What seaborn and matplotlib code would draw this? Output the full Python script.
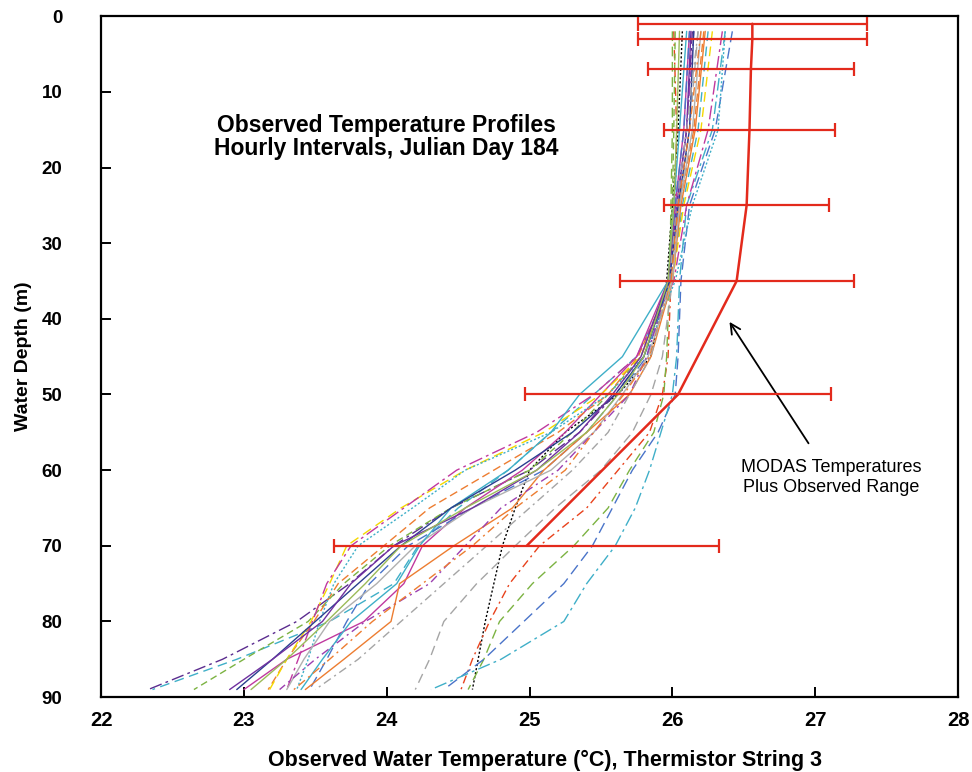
import matplotlib
matplotlib.use("Agg")
import matplotlib.pyplot as plt
import seaborn as sns
import pandas as pd

# Thermistor depths (m) for the hourly observed profiles
depths = [2, 15, 25, 35, 45, 50, 55, 60, 65, 70, 75, 80, 85, 89]

# Observed temperatures (deg C), one list per hourly profile
hr01 = [26.07, 26.04, 26.00, 25.96, 25.85, 25.62, 25.25, 25.00, 24.90, 24.81, 24.75, 24.69, 24.64, 24.60]
hr02 = [26.01, 26.03, 26.02, 25.99, 25.97, 25.93, 25.84, 25.62, 25.40, 25.07, 24.86, 24.72, 24.60, 24.52]
hr03 = [26.00, 26.00, 25.99, 25.98, 25.96, 25.94, 25.87, 25.70, 25.55, 25.31, 25.02, 24.79, 24.68, 24.57]
hr04 = [26.42, 26.30, 26.12, 26.06, 26.04, 26.02, 25.90, 25.72, 25.58, 25.44, 25.24, 24.96, 24.68, 24.40]
hr05 = [26.37, 26.28, 26.10, 26.05, 26.03, 26.00, 25.92, 25.84, 25.74, 25.60, 25.40, 25.24, 24.80, 24.31]
hr06 = [26.18, 26.12, 26.05, 26.00, 25.93, 25.85, 25.72, 25.50, 25.18, 24.90, 24.63, 24.40, 24.30, 24.20]
hr07 = [26.14, 26.10, 26.03, 25.98, 25.80, 25.60, 25.35, 25.00, 24.45, 24.05, 23.74, 23.37, 22.85, 22.33]
hr08 = [26.25, 26.18, 26.07, 26.00, 25.75, 25.45, 25.15, 24.85, 24.50, 24.22, 24.05, 23.60, 22.95, 22.36]
hr09 = [26.02, 26.01, 26.00, 25.97, 25.78, 25.55, 25.30, 25.00, 24.45, 24.02, 23.70, 23.45, 23.00, 22.65]
hr10 = [26.12, 26.08, 26.02, 25.97, 25.75, 25.50, 25.25, 24.95, 24.55, 24.25, 24.12, 23.84, 23.30, 23.00]
hr11 = [26.22, 26.15, 26.05, 25.99, 25.76, 25.55, 25.20, 24.75, 24.30, 23.98, 23.66, 23.49, 23.30, 23.17]
hr12 = [26.28, 26.20, 26.08, 26.00, 25.78, 25.50, 25.10, 24.55, 24.10, 23.72, 23.60, 23.47, 23.30, 23.18]
hr13 = [26.35, 26.25, 26.10, 26.01, 25.75, 25.45, 25.05, 24.49, 24.12, 23.75, 23.58, 23.48, 23.38, 23.30]
hr14 = [26.37, 26.32, 26.14, 26.02, 25.80, 25.55, 25.15, 24.55, 24.18, 23.80, 23.63, 23.53, 23.45, 23.37]
hr15 = [26.12, 26.08, 26.02, 25.98, 25.82, 25.62, 25.40, 25.10, 24.60, 24.15, 23.88, 23.72, 23.58, 23.46]
hr16 = [26.23, 26.16, 26.06, 26.00, 25.85, 25.70, 25.40, 25.10, 24.88, 24.47, 24.09, 24.03, 23.70, 23.43]
hr17 = [26.20, 26.14, 26.05, 26.00, 25.83, 25.65, 25.45, 25.15, 24.60, 24.20, 23.93, 23.60, 23.42, 23.30]
hr18 = [26.10, 26.05, 26.01, 25.97, 25.65, 25.35, 25.15, 24.85, 24.45, 24.23, 24.07, 23.75, 23.55, 23.40]
hr19 = [26.15, 26.10, 26.03, 25.98, 25.82, 25.70, 25.45, 25.20, 24.80, 24.55, 24.30, 23.85, 23.50, 23.25]
hr20 = [26.15, 26.12, 26.04, 25.98, 25.80, 25.60, 25.30, 24.90, 24.45, 24.10, 23.80, 23.50, 23.20, 22.95]
hr21 = [26.13, 26.10, 26.03, 25.97, 25.78, 25.58, 25.35, 25.05, 24.60, 24.05, 23.75, 23.55, 23.20, 22.90]
hr22 = [26.05, 26.03, 26.01, 25.97, 25.80, 25.62, 25.40, 25.05, 24.55, 24.10, 23.85, 23.58, 23.30, 23.05]
hr23 = [26.20, 26.12, 26.04, 25.99, 25.84, 25.66, 25.45, 25.25, 24.90, 24.60, 24.25, 23.90, 23.60, 23.35]
hr24 = [26.18, 26.10, 26.03, 25.98, 25.85, 25.70, 25.55, 25.30, 25.00, 24.70, 24.40, 24.10, 23.80, 23.50]

hourly_profiles = [hr01, hr02, hr03, hr04, hr05, hr06, hr07, hr08, hr09, hr10, hr11, hr12,
                   hr13, hr14, hr15, hr16, hr17, hr18, hr19, hr20, hr21, hr22, hr23, hr24]

# MODAS model temperatures and the observed range (half width) at each depth
modas_depth = [1, 3, 7, 15, 25, 35, 50, 70]
modas_temp = [26.56, 26.56, 26.55, 26.54, 26.52, 26.45, 26.04, 24.98]
modas_halfrange = [0.80, 0.80, 0.72, 0.60, 0.58, 0.82, 1.07, 1.35]

# line colours and dash patterns for the hourly series
line_colors = ["black", "#E8421C", "#7CB342", "#4A74C9", "#3FAFC8", "#A5A5A5",
               "#5B2C8F", "#3FAFC8", "#7CB342", "#C0399F", "#ED7D31", "#F5D800",
               "#C0399F", "#3FAFC8", "#4A74C9", "#ED7D31", "#B0B0B0", "#3FAFC8",
               "#9C3FB0", "#2A3F8F", "#7030A0", "#9BBB59", "#ED7D31", "#A5A5A5"]
dash_styles = [(0, (1.5, 1.5)), (0, (6, 3, 1.5, 3)), (0, (7, 4)), (0, (8, 4)), (0, (9, 3, 2, 3)), (0, (7, 4)),
               (0, (9, 3, 2, 3)), (0, (7, 4)), (0, (5, 3)), "-", (0, (6, 3)), (0, (7, 4)),
               (0, (10, 3, 2, 3)), (0, (1.5, 1.5)), (0, (8, 4)), "-", "-", "-",
               (0, (6, 3, 1.5, 3)), "-", "-", "-", (0, (6, 3, 1.5, 3)), (0, (6, 3, 1.5, 3))]

sns.set_theme(style="ticks")
plt.rcParams["font.family"] = ["Liberation Sans", "DejaVu Sans"]
plt.rcParams["text.color"] = "black"
plt.rcParams["axes.labelcolor"] = "black"
plt.rcParams["xtick.color"] = "black"
plt.rcParams["ytick.color"] = "black"

fig, ax = plt.subplots(figsize=(9.72, 7.72), dpi=100)
fig.subplots_adjust(left=0.104, right=0.9856, bottom=0.097, top=0.979)

for temps, col, ls in zip(hourly_profiles, line_colors, dash_styles):
    df = pd.DataFrame({"temp": temps, "depth": depths})
    sns.lineplot(data=df, x="temp", y="depth", sort=False, estimator=None,
                 color=col, linewidth=1.0, ax=ax)
    ax.lines[-1].set_linestyle(ls)

modas = pd.DataFrame({"temp": modas_temp, "depth": modas_depth})
sns.lineplot(data=modas, x="temp", y="depth", sort=False, estimator=None,
             color="#E32A1C", linewidth=1.8, ax=ax, zorder=5)
ax.errorbar(modas_temp, modas_depth, xerr=modas_halfrange, fmt="none",
            ecolor="#E32A1C", elinewidth=1.6, capsize=5, capthick=1.6, zorder=5)

ax.set_xlim(22, 28)
ax.set_ylim(90, 0)
ax.set_xticks(range(22, 29))
ax.set_yticks(range(0, 91, 10))

for side in ["left", "right", "top", "bottom"]:
    ax.spines[side].set_visible(True)
    ax.spines[side].set_color("black")
    ax.spines[side].set_linewidth(1.6)
ax.tick_params(axis="both", direction="in", length=7, width=1.4, color="black",
               labelcolor="black", top=False, right=False)
ax.tick_params(axis="x", pad=10)
ax.tick_params(axis="y", pad=28)
for lab in ax.get_xticklabels():
    lab.set_fontweight("bold")
    lab.set_fontsize(14.5)
for lab in ax.get_yticklabels():
    lab.set_fontweight("bold")
    lab.set_fontsize(13.5)

ax.set_xlabel("Observed Water Temperature (°C), Thermistor String 3",
              fontweight="bold", fontsize=15.5, labelpad=14)
ax.xaxis.label.set_x(0.518)
ax.set_ylabel("Water Depth (m)", fontweight="bold", fontsize=14, labelpad=7)

ax.text(24.0, 15.9, "Observed Temperature Profiles\nHourly Intervals, Julian Day 184",
        ha="center", va="center", fontsize=16.5, fontweight="bold", linespacing=1.0)

ax.annotate("MODAS Temperatures\nPlus Observed Range", xy=(26.40, 40.4),
            xytext=(27.11, 61.0), ha="center", va="center", fontsize=13,
            linespacing=1.2,
            arrowprops=dict(arrowstyle="->", color="black", lw=1.3,
                            shrinkA=11, shrinkB=0, mutation_scale=18))

fig.savefig("out.png", dpi=100, facecolor="white")
